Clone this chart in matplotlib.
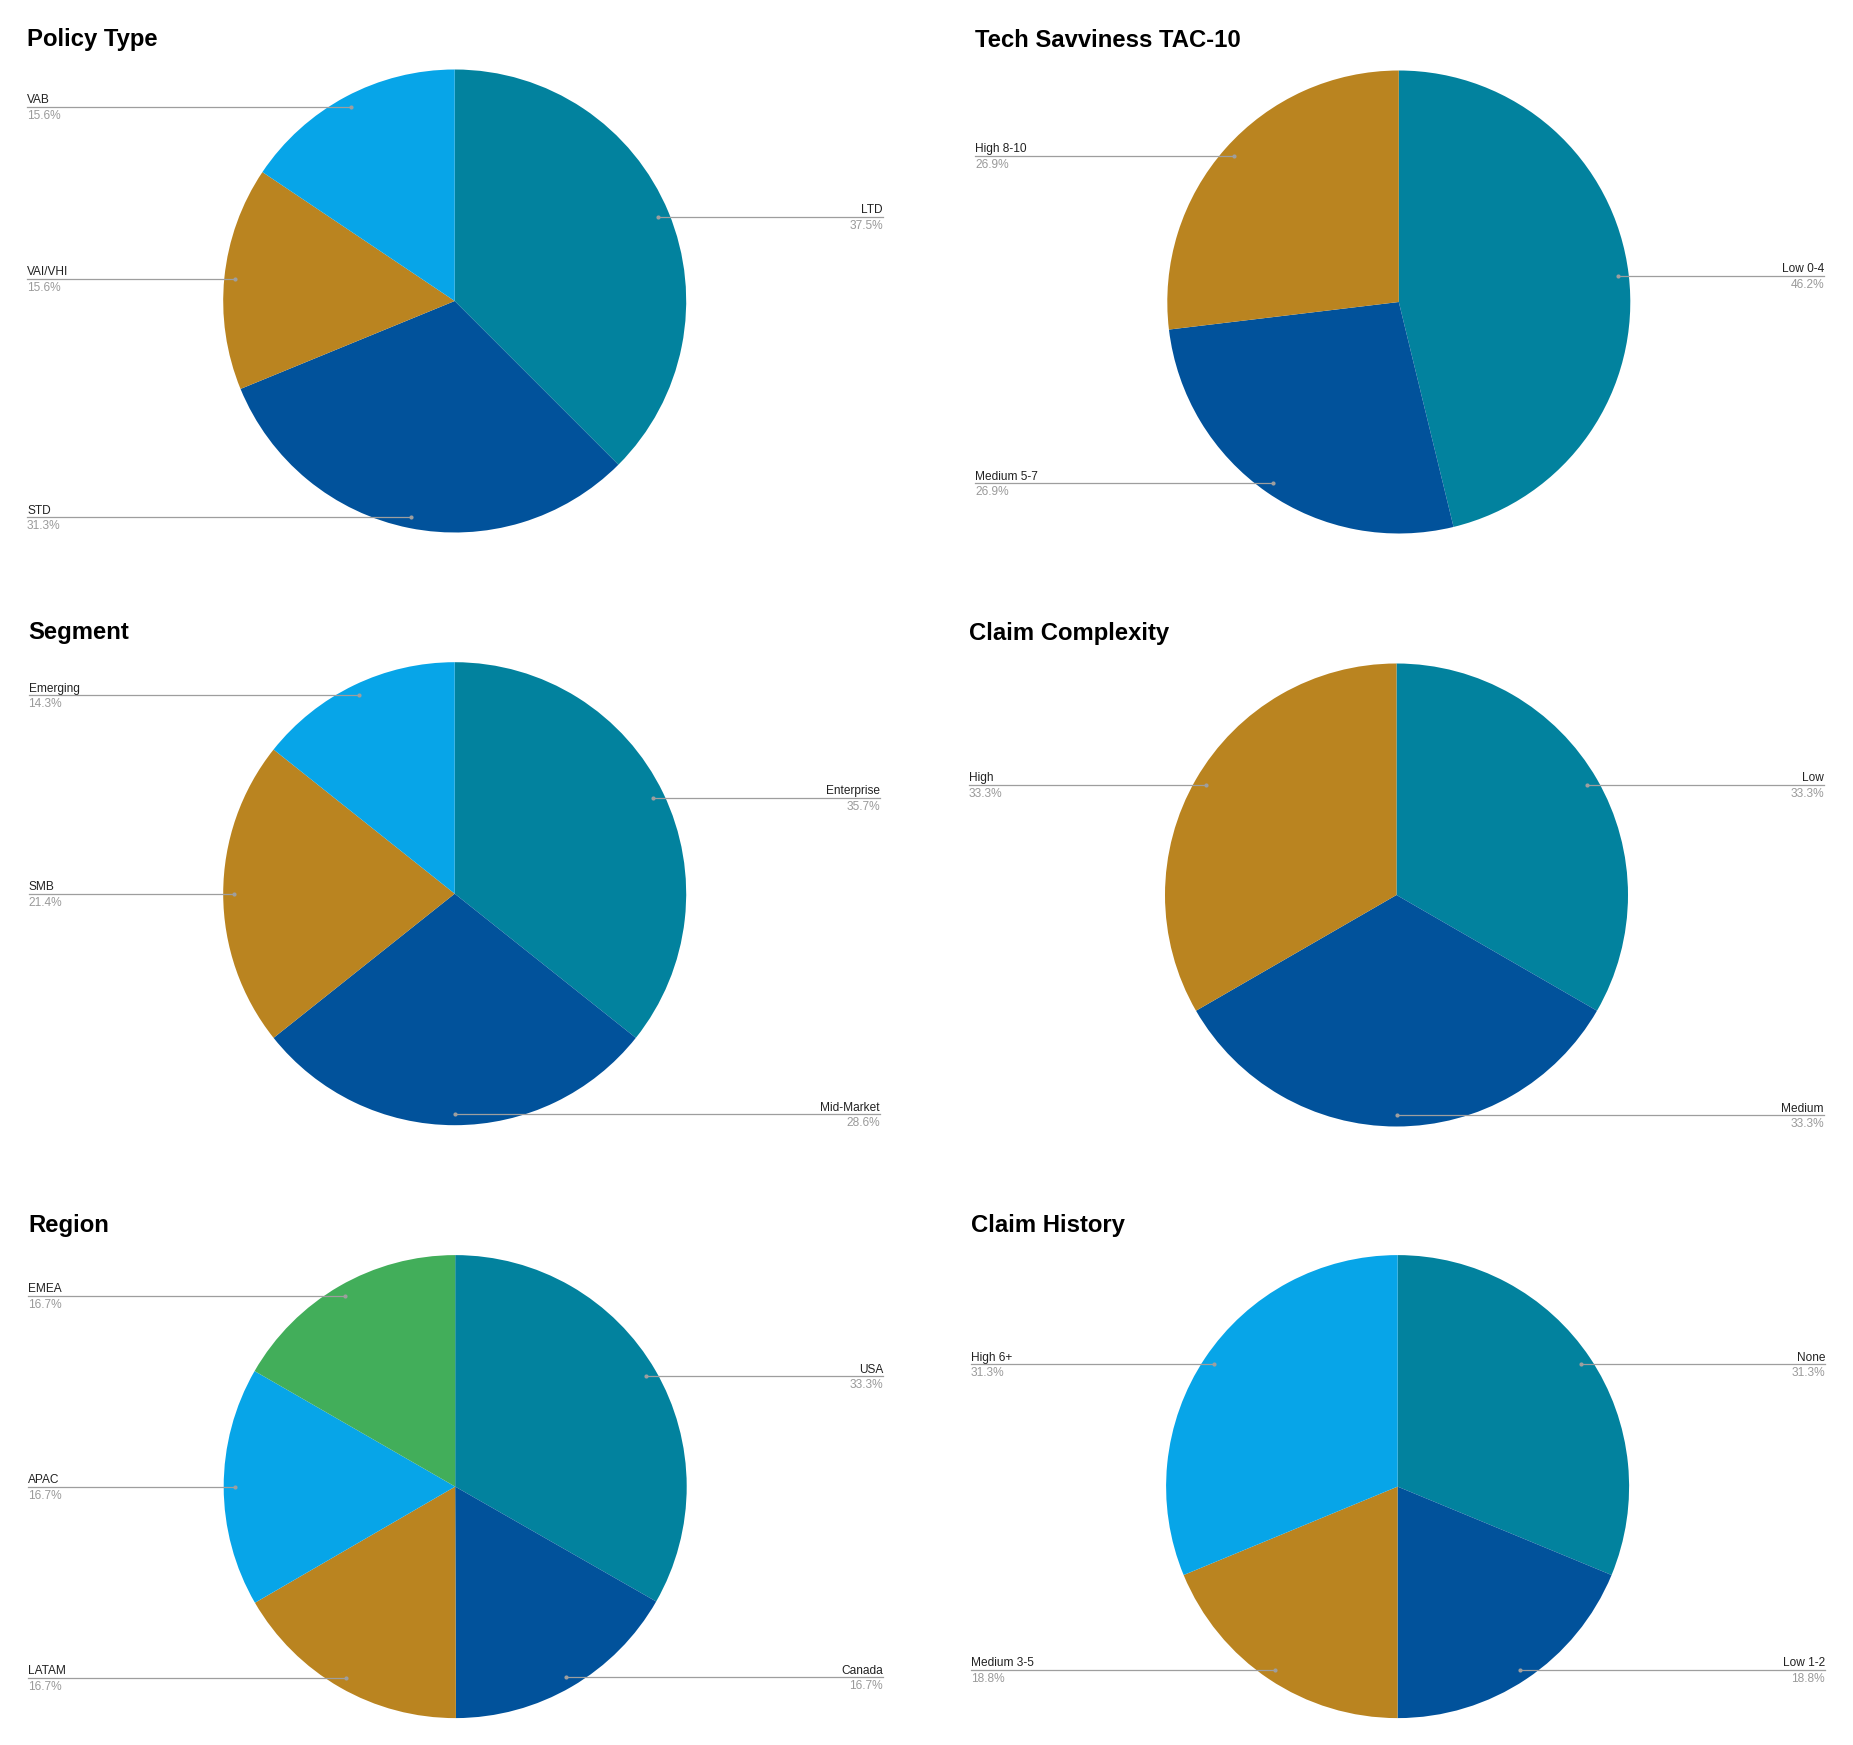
import numpy as np
import matplotlib
matplotlib.use("Agg")
import matplotlib.pyplot as plt

plt.rcParams['font.family'] = ['Liberation Sans', 'DejaVu Sans']

W, H = 1853, 1745

# data (percent shown next to each slice)
policy_labels = ["LTD", "STD", "VAI/VHI", "VAB"]
policy_pct = [37.5, 31.3, 15.6, 15.6]

tech_labels = ["Low 0-4", "Medium 5-7", "High 8-10"]
tech_pct = [46.2, 26.9, 26.9]

segment_labels = ["Enterprise", "Mid-Market", "SMB", "Emerging"]
segment_pct = [35.7, 28.6, 21.4, 14.3]

complexity_labels = ["Low", "Medium", "High"]
complexity_pct = [33.3, 33.3, 33.3]

region_labels = ["USA", "Canada", "LATAM", "APAC", "EMEA"]
region_pct = [33.3, 16.7, 16.7, 16.7, 16.7]

history_labels = ["None", "Low 1-2", "Medium 3-5", "High 6+"]
history_pct = [31.3, 18.8, 18.8, 31.3]

palette = ["#02829E", "#01529B", "#BA8420", "#07A5E8", "#42AE5A"]

# title, labels, values, centre x, centre y (from top), left edge, right edge
panels = [
    ("Policy Type", policy_labels, policy_pct, 454.7, 301, 27, 883),
    ("Tech Savviness TAC-10", tech_labels, tech_pct, 1398.8, 302, 975, 1824),
    ("Segment", segment_labels, segment_pct, 454.7, 893.7, 28.5, 880),
    ("Claim Complexity", complexity_labels, complexity_pct, 1396.5, 895, 969, 1824),
    ("Region", region_labels, region_pct, 455.2, 1486.6, 28, 883),
    ("Claim History", history_labels, history_pct, 1397.6, 1486.6, 971, 1825),
]

R = 231.5
LINE_GREY = "#9e9e9e"

fig = plt.figure(figsize=(W / 100, H / 100), dpi=100)
ax = fig.add_axes([0, 0, 1, 1])

for title, labels, vals, cx, cy_top, lx, rx in panels:
    cy = H - cy_top
    wedges, _ = ax.pie(vals, colors=palette[:len(vals)], startangle=90,
                       counterclock=False, radius=R, center=(cx, cy),
                       wedgeprops=dict(linewidth=0))
    for w, lab, v in zip(wedges, labels, vals):
        mid = np.deg2rad((w.theta1 + w.theta2) / 2)
        px = cx + 0.952 * R * np.cos(mid)
        py = cy + 0.952 * R * np.sin(mid)
        if px - cx > -1e-6:
            ax.plot([px, rx], [py, py], color=LINE_GREY, lw=0.9, zorder=3)
            tx, ha = rx, 'right'
        else:
            ax.plot([lx, px], [py, py], color=LINE_GREY, lw=0.9, zorder=3)
            tx, ha = lx, 'left'
        ax.plot(px, py, 'o', ms=3, color=LINE_GREY, mec='none', zorder=4)
        ax.text(tx, py + 3.5, lab, ha=ha, va='baseline', fontsize=8.6, color='#222222')
        ax.text(tx, py - 3, f"{v:.1f}%", ha=ha, va='top', fontsize=8.6, color='#9a9a9a')
    ax.text(lx, H - (cy_top - 255), title, ha='left', va='baseline',
            fontsize=17.2, fontweight='bold', color='black')

ax.set_xlim(0, W)
ax.set_ylim(0, H)
ax.set_aspect('auto')
ax.axis('off')

fig.savefig('out.png', dpi=100)
